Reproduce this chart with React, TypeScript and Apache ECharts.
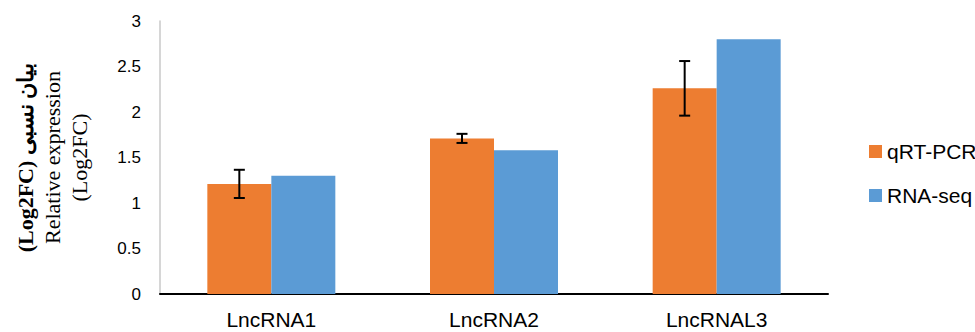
import React, { useEffect, useRef } from "react";
import * as echarts from "echarts";

const categories = ["LncRNA1", "LncRNA2", "LncRNAL3"];
const qrtPcr = [1.21, 1.71, 2.26];
const qrtPcrErr = [0.155, 0.05, 0.3];
const rnaSeq = [1.3, 1.58, 2.8];
const yTicks = { min: 0, max: 3, interval: 0.5 };
const seriesNames = ["qRT-PCR", "RNA-seq"];

const BAR_W = 64;

export default function App() {
  const ref = useRef<HTMLDivElement>(null);
  useEffect(() => {
    document.body.style.margin = "0";
    const chart = echarts.init(ref.current!, null, { renderer: "svg" });
    const errData = categories.map((_, i) => [i, qrtPcr[i] - qrtPcrErr[i], qrtPcr[i] + qrtPcrErr[i]]);
    chart.setOption({
      animation: false,
      backgroundColor: "#ffffff",
      grid: { left: 160, right: 147, top: 21, bottom: 38, containLabel: false, outerBoundsMode: "none" },
      legend: {
        orient: "vertical",
        left: 869,
        top: 141,
        padding: 0,
        itemWidth: 13,
        itemHeight: 13,
        itemGap: 23,
        icon: "rect",
        data: seriesNames,
        textStyle: { fontFamily: "Liberation Sans", fontSize: 21, color: "#000", padding: [0, 0, 0, 0] },
      },
      xAxis: {
        type: "category",
        data: categories,
        axisLine: { show: true, lineStyle: { color: "#000", width: 2 } },
        axisTick: { show: false },
        axisLabel: { fontFamily: "Liberation Sans", fontSize: 21, color: "#000", margin: 15 },
        splitLine: { show: false },
      },
      yAxis: {
        type: "value",
        min: yTicks.min,
        max: yTicks.max,
        interval: yTicks.interval,
        axisLine: { show: true, lineStyle: { color: "#c8c8c8", width: 1.5 } },
        axisTick: { show: false },
        splitLine: { show: false },
        axisLabel: { fontFamily: "Liberation Sans", fontSize: 17, color: "#000", margin: 19 },
        name: "{b|(Log2FC) بیان نسبی}\n{n|Relative expression}\n{n|(Log2FC)}",
        nameLocation: "middle",
        nameRotate: 90,
        nameGap: 67,
        nameTextStyle: {
          color: "#000",
          align: "center",
          rich: {
            b: { fontFamily: "Liberation Serif", fontWeight: "bold", fontSize: 22, lineHeight: 27, color: "#000" },
            n: { fontFamily: "Liberation Serif", fontSize: 22, lineHeight: 27, color: "#000" },
          },
        },
      },
      series: [
        {
          name: seriesNames[0],
          type: "bar",
          data: qrtPcr,
          barWidth: BAR_W,
          barGap: "0%",
          itemStyle: { color: "#ED7D31" },
        },
        {
          name: seriesNames[1],
          type: "bar",
          data: rnaSeq,
          barWidth: BAR_W,
          barGap: "0%",
          itemStyle: { color: "#5B9BD5" },
        },
        {
          type: "custom",
          name: "err",
          data: errData,
          encode: { x: 0, y: [1, 2] },
          z: 10,
          renderItem: (params: any, api: any) => {
            const x = api.value(0);
            const lo = api.coord([x, api.value(1)]);
            const hi = api.coord([x, api.value(2)]);
            const cx = lo[0] - BAR_W / 2;
            const cap = 5.5;
            const style = { stroke: "#000", lineWidth: 2 };
            return {
              type: "group",
              children: [
                { type: "line", shape: { x1: cx, y1: lo[1], x2: cx, y2: hi[1] }, style },
                { type: "line", shape: { x1: cx - cap, y1: lo[1], x2: cx + cap, y2: lo[1] }, style },
                { type: "line", shape: { x1: cx - cap, y1: hi[1], x2: cx + cap, y2: hi[1] }, style },
              ],
            };
          },
        },
      ],
    });
    return () => chart.dispose();
  }, []);
  return <div ref={ref} style={{ width: 975, height: 332 }} />;
}
